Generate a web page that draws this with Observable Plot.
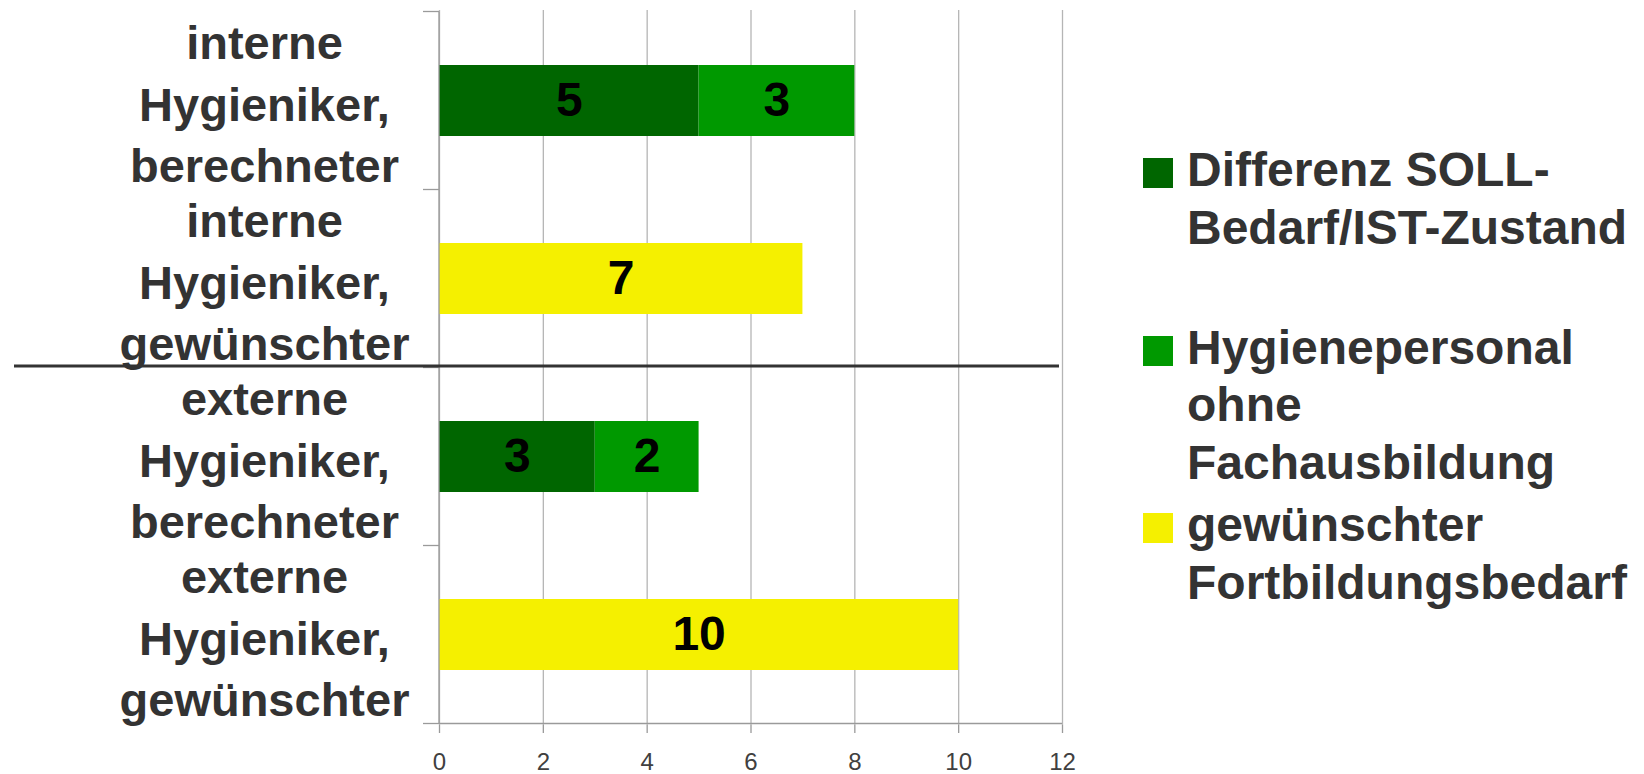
<!DOCTYPE html>
<html>
<head>
<meta charset="utf-8">
<script src="https://cdn.jsdelivr.net/npm/d3@7"></script>
<script src="https://cdn.jsdelivr.net/npm/@observablehq/plot@0.6"></script>
<style>
  html, body { margin: 0; padding: 0; background: #fff; }
  body { width: 1644px; height: 774px; position: relative; overflow: hidden; font-family: "Liberation Sans", Arial, sans-serif; }
  #chart { position: absolute; left: 0; top: 0; }
  #legend { position: absolute; left: 1143px; top: 141px; }
  .item { position: relative; height: 177.5px; }
  .sw { position: absolute; left: 0; top: 17px; width: 30px; height: 30px; }
  .lbl { position: absolute; left: 44px; top: 0; white-space: pre; font-size: 48px; font-weight: bold; line-height: 57.5px; color: #333; }
</style>
</head>
<body>
<div id="chart"></div>
<div id="legend"></div>
<script>
// ---- data ----
const categories = [
  "interne Hygieniker, berechneter",
  "interne Hygieniker, gewünschter",
  "externe Hygieniker, berechneter",
  "externe Hygieniker, gewünschter"
];
const seriesNames = [
  "Differenz SOLL-Bedarf/IST-Zustand",
  "Hygienepersonal ohne Fachausbildung",
  "gewünschter Fortbildungsbedarf"
];
const legendLabels = [
  "Differenz SOLL-\nBedarf/IST-Zustand",
  "Hygienepersonal\nohne\nFachausbildung",
  "gewünschter\nFortbildungsbedarf"
];
const seriesColors = ["#006600", "#009900", "#F5F000"];
const differenzValues = [5, null, 3, null];
const hygienepersonalValues = [3, null, 2, null];
const fortbildungValues = [null, 7, null, 10];
const xTicks = [0, 2, 4, 6, 8, 10, 12];

// ---- build table ----
const seriesValues = [differenzValues, hygienepersonalValues, fortbildungValues];
const rows = [];
categories.forEach((cat, i) => {
  seriesValues.forEach((vals, s) => {
    if (vals[i] != null) rows.push({cat, series: seriesNames[s], value: vals[i]});
  });
});

const FONT = '"Liberation Sans", Arial, sans-serif';

// custom render: category boundary ticks, baseline, separator
function frameDecor(index, scales, values, dims) {
  const y = scales.y, x = scales.x;
  const step = y.step(), bw = y.bandwidth();
  const x0 = x(0), x12 = x(xTicks[xTicks.length - 1]);
  const g = d3.create("svg:g");
  const bounds = categories.map(c => y(c) - (step - bw) / 2);
  bounds.push(bounds[bounds.length - 1] + step);
  g.append("line").attr("x1", x0).attr("x2", x0)
    .attr("y1", bounds[0]).attr("y2", bounds[bounds.length - 1])
    .attr("stroke", "#9a9a9a").attr("stroke-width", 1.3);
  for (const b of bounds) {
    g.append("line").attr("x1", x0 - 16).attr("x2", x0).attr("y1", b).attr("y2", b)
      .attr("stroke", "#9a9a9a").attr("stroke-width", 1.3);
  }
  const yb = bounds[bounds.length - 1];
  g.append("line").attr("x1", x0).attr("x2", x12).attr("y1", yb).attr("y2", yb)
    .attr("stroke", "#9a9a9a").attr("stroke-width", 1.3);
  const ys = bounds[2] - 1.5;
  g.append("line").attr("x1", 14).attr("x2", x12 - 3).attr("y1", ys).attr("y2", ys)
    .attr("stroke", "#333").attr("stroke-width", 3);
  return g.node();
}

const chart = Plot.plot({
  width: 1100,
  height: 774,
  marginLeft: 439,
  marginRight: 38,
  marginTop: 10,
  marginBottom: 49,
  style: {fontFamily: FONT, background: "transparent", overflow: "visible"},
  x: {domain: [0, 12], ticks: xTicks, label: null},
  y: {domain: categories, paddingInner: 0.6, paddingOuter: 0.3, label: null},
  color: {domain: seriesNames, range: seriesColors},
  marks: [
    Plot.gridX(xTicks, {stroke: "#b5b5b5", strokeOpacity: 1, strokeWidth: 1.3}),
    Plot.barX(rows, Plot.stackX({y: "cat", x: "value", fill: "series", z: "series"})),
    Plot.text(rows, Plot.stackX({y: "cat", x: "value", z: "series", text: d => String(d.value),
      fill: "#000", fontSize: 48, fontWeight: "bold"})),
    frameDecor,
    Plot.axisX(xTicks, {tickSize: 8, tickPadding: 19, stroke: "#9a9a9a", strokeWidth: 1.3, fill: "#404040", fontSize: 24, label: null}),
    Plot.axisY({tickSize: 0, tickPadding: 175, textAnchor: "middle", fontSize: 47, fontWeight: "bold",
      fill: "#333", lineHeight: 1.31, label: null,
      tickFormat: d => d.split(" ").join("\n")})
  ]
});
document.getElementById("chart").appendChild(chart);

// legend
const legend = document.getElementById("legend");
seriesNames.forEach((name, i) => {
  const item = document.createElement("div");
  item.className = "item";
  const sw = document.createElement("div");
  sw.className = "sw";
  sw.style.background = seriesColors[i];
  const lbl = document.createElement("div");
  lbl.className = "lbl";
  lbl.textContent = legendLabels[i];
  item.appendChild(sw);
  item.appendChild(lbl);
  legend.appendChild(item);
});
</script>
</body>
</html>
